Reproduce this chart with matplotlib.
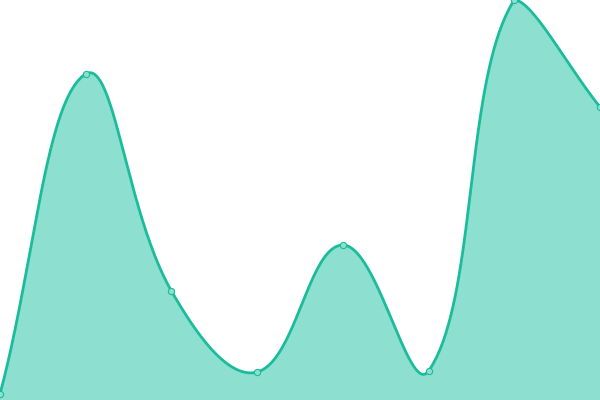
import numpy as np
import matplotlib
matplotlib.use("Agg")
import matplotlib.pyplot as plt

# data
categories = ["A", "B", "C", "D", "E", "F", "G", "H"]
values = [6, 326, 109, 28, 155, 29, 400, 293]

LINE = "#1abc9c"
FILL = "#8ddfcf"
W, H = 600, 400
YMAX = 400
TENSION = 0.4


def spline_path(xs, ys, n=80):
    """Chart.js-style spline (tension) in pixel space, with control points capped to the area."""
    pts = np.column_stack([xs, ys]).astype(float)
    m = len(pts)
    cps = []
    for i in range(m):
        prev = pts[i - 1] if i > 0 else pts[i]
        cur = pts[i]
        nxt = pts[i + 1] if i < m - 1 else pts[i]
        d01 = np.hypot(*(cur - prev))
        d12 = np.hypot(*(nxt - cur))
        tot = d01 + d12
        s01 = d01 / tot if tot else 0
        s12 = d12 / tot if tot else 0
        fa = TENSION * s01
        fb = TENSION * s12
        cp_prev = cur - fa * (nxt - prev)
        cp_next = cur + fb * (nxt - prev)
        cp_prev = np.clip(cp_prev, [0, 0], [W, H])
        cp_next = np.clip(cp_next, [0, 0], [W, H])
        cps.append((cp_prev, cp_next))
    out = []
    u = np.linspace(0, 1, n)[:, None]
    for i in range(m - 1):
        P0 = pts[i]
        P1 = cps[i][1]
        P2 = cps[i + 1][0]
        P3 = pts[i + 1]
        b = (1 - u) ** 3 * P0 + 3 * (1 - u) ** 2 * u * P1 + 3 * (1 - u) * u ** 2 * P2 + u ** 3 * P3
        out.append(b)
    return np.vstack(out)


x = np.arange(len(categories))
# convert to pixel space (y up, origin bottom-left)
px = x * W / (len(categories) - 1)
py = np.asarray(values, float) * H / YMAX
path = spline_path(px, py)
cx = path[:, 0] * (len(categories) - 1) / W
cy = path[:, 1] * YMAX / H

fig = plt.figure(figsize=(6, 4), dpi=100)
ax = fig.add_axes([0, 0, 1, 1])
ax.fill_between(cx, cy, 0, color=FILL, linewidth=0)
ax.plot(cx, cy, color=LINE, linewidth=2.0, solid_capstyle="round")
ax.plot(x, values, linestyle="none", marker="o", markersize=4.5,
        markerfacecolor=FILL, markeredgecolor=LINE, markeredgewidth=0.8)
ax.set_xlim(0, len(categories) - 1)
ax.set_ylim(0, YMAX)
ax.axis("off")
fig.savefig("out.png", dpi=100)
